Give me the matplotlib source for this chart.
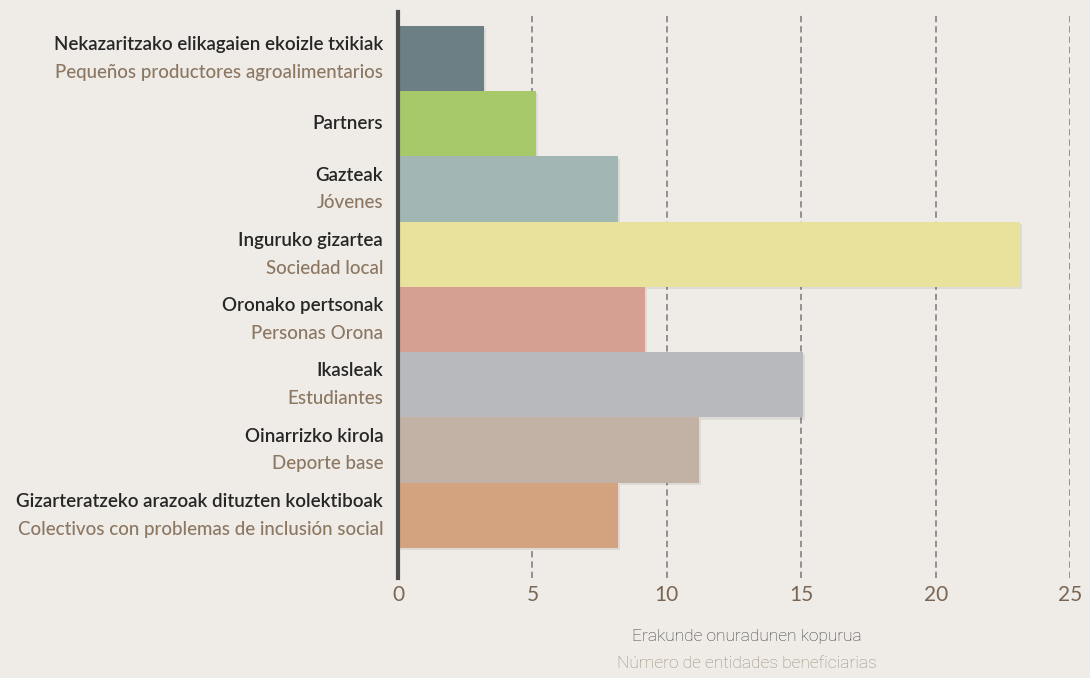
import numpy as np
import matplotlib
matplotlib.use('Agg')
import matplotlib.pyplot as plt
import matplotlib.patheffects as pe
from matplotlib.transforms import offset_copy

plt.rcParams['font.family'] = ['Lato', 'DejaVu Sans']

labels_eu = ['Nekazaritzako elikagaien ekoizle txikiak', 'Partners', 'Gazteak',
             'Inguruko gizartea', 'Oronako pertsonak', 'Ikasleak',
             'Oinarrizko kirola', 'Gizarteratzeko arazoak dituzten kolektiboak']
labels_es = ['Pequeños productores agroalimentarios', '', 'Jóvenes',
             'Sociedad local', 'Personas Orona', 'Estudiantes',
             'Deporte base', 'Colectivos con problemas de inclusión social']
values = [3.2, 5.15, 8.2, 23.15, 9.2, 15.05, 11.2, 8.2]
colors = ['#6b7f84', '#a8c96a', '#a2b7b3', '#e9e29c',
          '#d5a092', '#b8b9bc', '#c1b2a5', '#d3a380']
xticks = [0, 5, 10, 15, 20, 25]

bg = '#efece7'
fig = plt.figure(figsize=(10.9, 6.78), dpi=100, facecolor=bg)
ax = fig.add_axes([0.3651, 0.1475, 0.6166, 0.8348], facecolor=bg)

y = np.arange(len(values))
ax.set_xlim(0, 25)
ax.set_ylim(7.96, -0.714)

for t in xticks[1:]:
    ax.axvline(t, color='#8a8a8a', lw=1.3, ls=(0, (3.5, 2.2)), zorder=1)

bars = ax.barh(y, values, height=1.0, color=colors, zorder=2)
for b in bars:
    b.set_path_effects([pe.SimplePatchShadow(offset=(1.5, -1.5), shadow_rgbFace='#000000', alpha=0.07),
                        pe.Normal()])

for s in ['top', 'right', 'bottom']:
    ax.spines[s].set_visible(False)
ax.spines['left'].set_color('#4d4d4d')
ax.spines['left'].set_linewidth(3)
ax.spines['left'].set_zorder(3)

ax.set_yticks([])
ax.set_xticks(xticks)
ax.tick_params(axis='x', length=0, pad=5, labelsize=15, labelcolor='#7a6652')

trans = ax.get_yaxis_transform()
for i in range(len(values)):
    if labels_es[i]:
        ax.text(-0.022, i, labels_eu[i], transform=offset_copy(trans, fig=fig, y=10, units='points'),
                ha='right', va='center', fontsize=13.5, color='#262626', fontweight='semibold')
        ax.text(-0.022, i, labels_es[i], transform=offset_copy(trans, fig=fig, y=-10, units='points'),
                ha='right', va='center', fontsize=13.5, color='#8b7762', fontweight='medium')
    else:
        ax.text(-0.022, i, labels_eu[i], transform=trans,
                ha='right', va='center', fontsize=13.5, color='#262626', fontweight='semibold')

fig.text(747 / 1090, 1 - 637 / 678, 'Erakunde onuradunen kopurua', ha='center', va='center',
         fontsize=12.5, color='#3a3a3a', fontweight='light', family=['Roboto', 'DejaVu Sans'])
fig.text(747 / 1090, 1 - 663 / 678, 'Número de entidades beneficiarias', ha='center', va='center',
         fontsize=12.5, color='#9a8a78', fontweight='light', family=['Roboto', 'DejaVu Sans'])

fig.savefig('out.png', dpi=100, facecolor=bg)
